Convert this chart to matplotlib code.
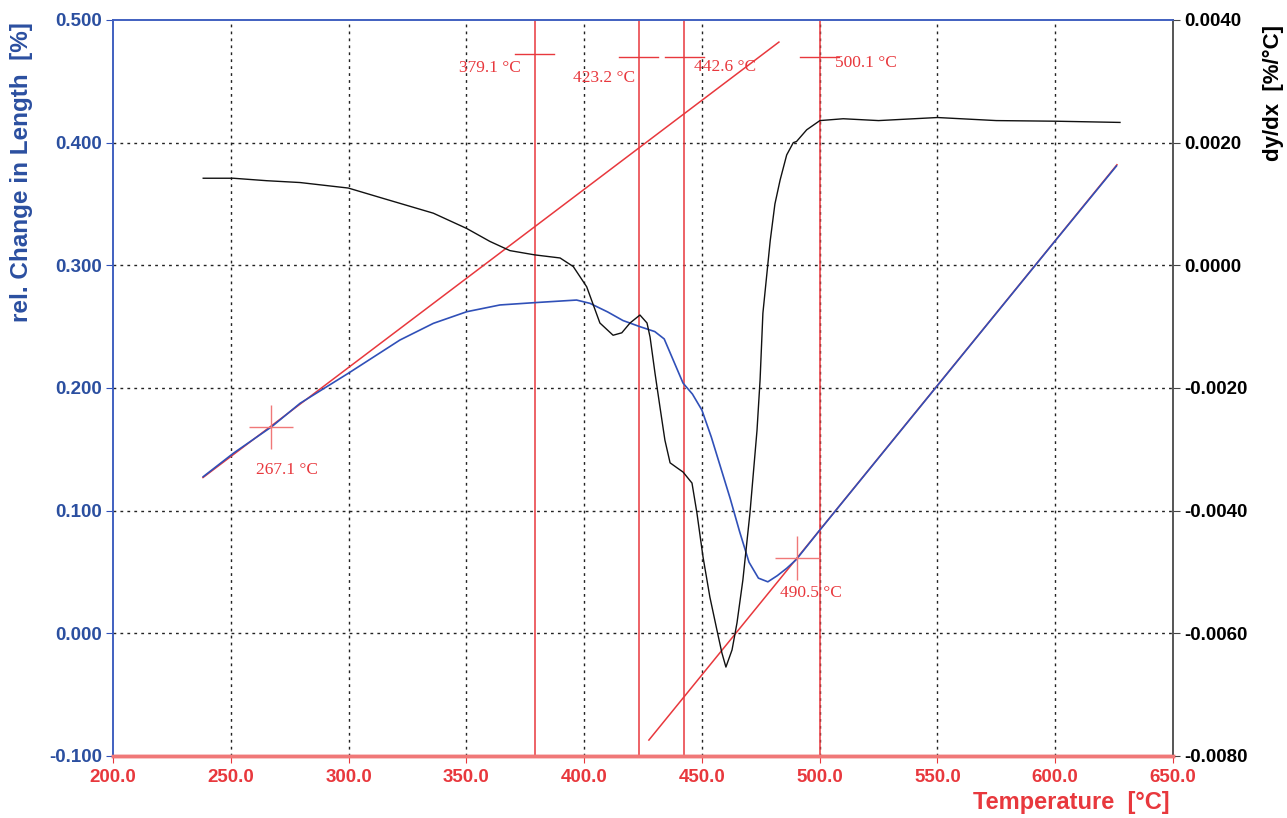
import matplotlib
matplotlib.use("Agg")
import matplotlib.pyplot as plt
import numpy as np

# ---------------- data ----------------
blue_T = [238.3, 251.1, 267.4, 279.4, 299.9, 321.8, 336, 350.2, 364.3, 379.1, 396.8,
          402.5, 410, 416.5, 423.7, 430, 434, 438, 442, 446, 450, 454, 458, 462, 466,
          470, 474, 478, 482, 486, 490, 500, 550, 600, 626]
blue_v = [0.1277, 0.1468, 0.1685, 0.1875, 0.212, 0.2391, 0.2527, 0.2622, 0.2677, 0.2696,
          0.2717, 0.269, 0.262, 0.255, 0.250, 0.246, 0.240, 0.222, 0.204, 0.195, 0.182,
          0.160, 0.135, 0.110, 0.083, 0.058, 0.045, 0.042, 0.047, 0.053, 0.060, 0.084,
          0.202, 0.320, 0.381]

black_T = [238.3, 251.1, 265.2, 279.4, 299.9, 314.8, 336, 350.2, 360, 368.5, 379.1,
           389.8, 395.4, 401.1, 406.7, 412.3, 416, 419.5, 423.7, 426.7, 428, 430.1,
           432.2, 434.3, 436.5, 439.4, 442, 445.8, 447.9, 450.5, 453.4, 456.4, 458.5,
           460.2, 462.8, 464.9, 467.4, 470.4, 473.4, 474.7, 475.9, 479, 481, 483.2,
           486, 488.8, 490.2, 494.5, 500.1, 510, 525, 550, 575, 600, 627.5]
black_v = [0.00142, 0.00142, 0.00138, 0.00135, 0.00126, 0.00109, 0.00085, 0.00060,
           0.00039, 0.00024, 0.00017, 0.00012, -0.00002, -0.00035, -0.00094, -0.00114,
           -0.00110, -0.00094, -0.00081, -0.00094, -0.00117, -0.00176, -0.00231, -0.00285,
           -0.00322, -0.00330, -0.00337, -0.00355, -0.00404, -0.00476, -0.00541, -0.00595,
           -0.00632, -0.00655, -0.00627, -0.00583, -0.00513, -0.00404, -0.00269, -0.00187,
           -0.00078, 0.00040, 0.00100, 0.00139, 0.00180, 0.00200, 0.00202, 0.00221,
           0.00236, 0.00239, 0.00236, 0.00241, 0.00236, 0.00235, 0.00233]

tangent1_T = [238.2, 482.7]
tangent1_v = [0.127, 0.482]
tangent2_T = [427.5, 626.2]
tangent2_v = [-0.087, 0.382]

onset_T = [267.1, 490.5]
onset_v = [0.168, 0.0617]

vline_T = [379.1, 423.2, 442.6, 500.1]

x_ticks = [200, 250, 300, 350, 400, 450, 500, 550, 600, 650]
y_ticks = [-0.1, 0.0, 0.1, 0.2, 0.3, 0.4, 0.5]
y2_ticks = [-0.008, -0.006, -0.004, -0.002, 0.0, 0.002, 0.004]

# ---------------- style ----------------
RED = "#e8383d"
LRED = "#f07878"
BLUE_TXT = "#2b4fa0"
BLUE_LINE = "#3050b8"
SANS = "Liberation Sans"
SERIF = "Liberation Serif"

fig = plt.figure(figsize=(12.87, 8.18), dpi=100)
ax = fig.add_axes([113/1287, 1-756/818, (1173-113)/1287, (756-20)/818])
ax2 = ax.twinx()

ax.set_xlim(200, 650)
ax.set_ylim(-0.1, 0.5)
ax2.set_ylim(-0.008, 0.004)

# grid
for t in x_ticks[1:-1]:
    ax.axvline(t, color="#222222", lw=1.0, ls=(0, (2, 3)), zorder=0)
for v in y_ticks[1:-1]:
    ax.axhline(v, color="#222222", lw=1.0, ls=(0, (2, 3)), zorder=0)

# vertical markers
for t in vline_T:
    ax.axvline(t, color=RED, lw=1.1, zorder=2)
bar_v = [0.4723, 0.470, 0.470, 0.470]
for t, bv in zip(vline_T, bar_v):
    ax.plot([t - 8.3, t + 8.3], [bv, bv], color=RED, lw=1.0, zorder=2)

lab_pos = [(373.2, 0.461, "right"), (421.6, 0.4527, "right"),
           (446.6, 0.4617, "left"), (506.5, 0.465, "left")]
for t, (px, py, ha) in zip(vline_T, lab_pos):
    ax.text(px, py, f"{t:.1f} °C", color=RED, fontsize=12.5, family=SERIF,
            ha=ha, va="center", zorder=5)

# tangents
ax.plot(tangent1_T, tangent1_v, color=RED, lw=1.1, zorder=3)
ax.plot(tangent2_T, tangent2_v, color=RED, lw=1.1, zorder=3)

# blue curve
ax.plot(blue_T, blue_v, color=BLUE_LINE, lw=1.2, zorder=4)

# onset crosses
ax.plot(onset_T, onset_v, ls="none", marker="+", markersize=31, mew=1.0,
        color=LRED, zorder=6)
onset_lab = [(260.7, 0.133), (483.2, 0.033)]
for t, (px, py) in zip(onset_T, onset_lab):
    ax.text(px, py, f"{t:.1f} °C", color=RED, fontsize=12.5, family=SERIF,
            ha="left", va="center", zorder=5)

# black derivative curve
ax2.plot(black_T, black_v, color="#111111", lw=1.0, zorder=4)

# ticks
ax.set_xticks(x_ticks)
ax.set_xticklabels([f"{t:.1f}" for t in x_ticks])
ax.set_yticks(y_ticks)
ax.set_yticklabels([f"{v:.3f}" for v in y_ticks])
ax2.set_yticks(y2_ticks)
ax2.set_yticklabels([f"{v:.4f}" for v in y2_ticks])

TS = 13.5
for lab in ax.get_xticklabels():
    lab.set_color(RED); lab.set_fontweight("bold"); lab.set_family(SANS); lab.set_fontsize(TS)
for lab in ax.get_yticklabels():
    lab.set_color(BLUE_TXT); lab.set_fontweight("bold"); lab.set_family(SANS); lab.set_fontsize(TS)
for lab in ax2.get_yticklabels():
    lab.set_color("black"); lab.set_fontweight("bold"); lab.set_family(SANS); lab.set_fontsize(TS)

ax.tick_params(axis="x", direction="out", length=5, colors=RED, labelcolor=RED, pad=4)
ax.tick_params(axis="y", direction="out", length=5, colors=BLUE_LINE, labelcolor=BLUE_TXT, pad=3)
ax2.tick_params(axis="y", direction="out", length=5, colors="#444444", labelcolor="black", pad=3)

# spines
for a in (ax, ax2):
    a.spines["left"].set_color("#4060c0")
    a.spines["top"].set_color("#4060c0")
    a.spines["right"].set_color("#555555")
    a.spines["bottom"].set_color(LRED)
    a.spines["bottom"].set_linewidth(2.5)
    a.spines["left"].set_linewidth(1.2)
    a.spines["top"].set_linewidth(1.2)
    a.spines["right"].set_linewidth(1.2)

# axis labels
fig.text(22/1287, 1-172/818, "rel. Change in Length  [%]", rotation=90, color=BLUE_TXT,
         fontsize=17.5, fontweight="bold", family=SANS, ha="center", va="center")
fig.text(1273/1287, 1-93/818, "dy/dx  [%/°C]", rotation=90, color="black",
         fontsize=16, fontweight="bold", family=SANS, ha="center", va="center")
fig.text(1170/1287, 1-803/818, "Temperature  [°C]", color=RED,
         fontsize=17, fontweight="bold", family=SANS, ha="right", va="center")

fig.savefig("out.png", dpi=100)
